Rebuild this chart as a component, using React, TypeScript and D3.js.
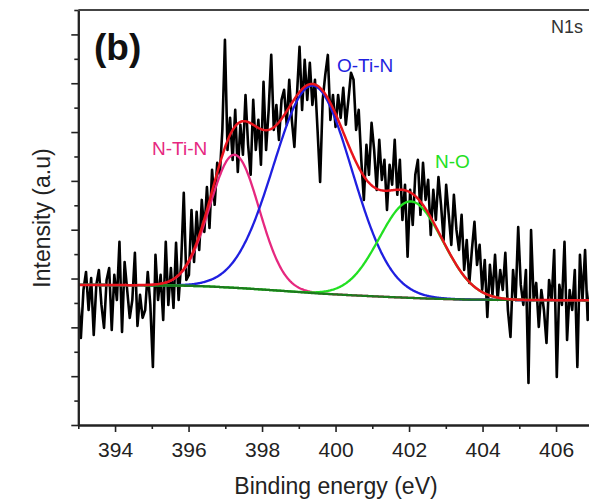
import React, { useEffect, useRef } from 'react';
import * as d3 from 'd3';

const W = 589;
const H = 504;

// Raw XPS N1s spectrum (binding energy grid start/step, intensity in a.u.)
const E_START = 393;
const E_STEP = 0.07;
const intensity = [
  512, 357, 553, 627, 471, 602, 369, 574, 635, 492,
  398, 594, 643, 389, 615, 512, 750, 381, 668, 553,
  439, 512, 705, 406, 533, 439, 471, 627, 492, 238,
  697, 512, 615, 430, 750, 492, 643, 480, 746, 512,
  668, 951, 594, 615, 881, 668, 873, 717, 922, 791,
  975, 807, 1045, 902, 1074, 1025, 1209, 1578, 1127, 1258,
  1086, 1291, 1037, 1230, 1107, 1352, 1148, 1025, 1332, 1127,
  1250, 1066, 1406, 1127, 1291, 1516, 1209, 1311, 1168, 1332,
  1373, 1230, 1414, 1250, 1139, 1352, 1549, 1291, 1496, 1332,
  1484, 1311, 1414, 1209, 996, 1332, 1434, 1516, 1250, 1352,
  1221, 1352, 1258, 1381, 1230, 1332, 1443, 1414, 1209, 1291,
  1086, 922, 1148, 1025, 1238, 1127, 963, 1168, 1004, 1086,
  881, 1066, 984, 1168, 943, 1086, 840, 984, 689, 963,
  820, 1025, 1086, 861, 1074, 922, 1004, 779, 963, 840,
  1016, 902, 758, 984, 861, 738, 943, 799, 717, 861,
  635, 758, 582, 717, 832, 656, 738, 553, 676, 443,
  656, 533, 697, 512, 635, 553, 705, 471, 361, 635,
  512, 811, 574, 492, 635, 172, 799, 512, 582, 402,
  553, 471, 336, 594, 512, 717, 197, 574, 492, 750,
  348, 553, 471, 635, 238, 697, 512, 717, 430, 553, 512,
];

// Shirley-type background
const baselineEnergy = [393, 395.5, 396.5, 397.5, 398.5, 399.5, 400.5, 401.5, 402.5, 403.5, 405, 407];
const baselineValue = [574, 572, 568, 560, 550, 539, 531, 524, 518, 514, 512, 511];

// Fitted Gaussian components
const peakNames = ['N-Ti-N', 'O-Ti-N', 'N-O'];
const peakCenters = [397.25, 399.38, 402.05];
const peakHeights = [545, 850, 395];
const peakSigmas = [0.67, 1.06, 0.86];
const peakColors = ['#e6287f', '#1f1fe0', '#22e022'];

const xMajorTicks = [394, 396, 398, 400, 402, 404, 406];
const xMinorTicks = [393, 395, 397, 399, 401, 403, 405, 407];
const yMajorTicks = [0, 200, 400, 600, 800, 1000, 1200, 1400, 1600];
const yMinorTicks = [100, 300, 500, 700, 900, 1100, 1300, 1500, 1700];

const FONT = '"Liberation Sans", Arial, Helvetica, sans-serif';

export default function App() {
  const ref = useRef<SVGSVGElement>(null);

  useEffect(() => {
    const svg = d3.select(ref.current);
    svg.selectAll('*').remove();

    const left = 78.3;
    const top = 10;
    const bottom = 425;
    const x = d3.scaleLinear().domain([393, 407]).range([left, 592.8]);
    const y = d3.scaleLinear().domain([0, 1700]).range([bottom, top]);
    const bg = d3.scaleLinear().domain(baselineEnergy).range(baselineValue).clamp(true);

    svg.append('rect').attr('width', W).attr('height', H).attr('fill', '#fff');

    const clip = svg.append('defs').append('clipPath').attr('id', 'plotclip');
    clip.append('rect').attr('x', left).attr('y', top).attr('width', W - left).attr('height', bottom - top);
    const plot = svg.append('g').attr('clip-path', 'url(#plotclip)');

    const data = intensity.map((v, i) => [E_START + i * E_STEP, v] as [number, number]);
    const line = d3.line<[number, number]>().x(d => x(d[0])).y(d => y(d[1]));

    plot.append('path')
      .attr('d', line(data))
      .attr('fill', 'none')
      .attr('stroke', '#000')
      .attr('stroke-width', 2.6)
      .attr('stroke-linejoin', 'round');

    const grid = d3.range(393, 407.001, 0.02);
    const gauss = (e: number, k: number) =>
      peakHeights[k] * Math.exp(-((e - peakCenters[k]) ** 2) / (2 * peakSigmas[k] ** 2));

    peakNames.forEach((_, k) => {
      const pts = grid.map(e => [e, bg(e) + gauss(e, k)] as [number, number]);
      plot.append('path')
        .attr('d', line(pts))
        .attr('fill', 'none')
        .attr('stroke', peakColors[k])
        .attr('stroke-width', 2.3);
    });

    const basePts = grid.map(e => [e, bg(e)] as [number, number]);
    plot.append('path')
      .attr('d', line(basePts))
      .attr('fill', 'none')
      .attr('stroke', '#1c7a1c')
      .attr('stroke-width', 2.3);

    const envPts = grid.map(e => [e, bg(e) + peakNames.reduce((s, _, k) => s + gauss(e, k), 0)] as [number, number]);
    plot.append('path')
      .attr('d', line(envPts))
      .attr('fill', 'none')
      .attr('stroke', '#e8141c')
      .attr('stroke-width', 2.5);

    // Axes
    const axisColor = '#222';
    const gx = svg.append('g').attr('transform', `translate(0,${bottom})`);
    gx.call(d3.axisBottom(x).tickValues(xMinorTicks).tickSize(4).tickSizeOuter(0).tickFormat(() => ''));
    const gxM = svg.append('g').attr('transform', `translate(0,${bottom})`);
    gxM.call(d3.axisBottom(x).tickValues(xMajorTicks).tickSize(7).tickSizeOuter(0).tickPadding(10).tickFormat(d3.format('d')));
    const gy = svg.append('g').attr('transform', `translate(${left},0)`);
    gy.call(d3.axisLeft(y).tickValues(yMinorTicks).tickSize(4).tickSizeOuter(0).tickFormat(() => ''));
    const gyM = svg.append('g').attr('transform', `translate(${left},0)`);
    gyM.call(d3.axisLeft(y).tickValues(yMajorTicks).tickSize(7).tickSizeOuter(0).tickFormat(() => ''));

    [gx, gxM, gy, gyM].forEach(g => {
      g.selectAll('path.domain').attr('stroke', axisColor).attr('stroke-width', 2);
      g.selectAll('line').attr('stroke', axisColor).attr('stroke-width', 1.6);
      g.selectAll('text').attr('font-family', FONT).attr('font-size', 21).attr('fill', '#222');
    });

    svg.append('line')
      .attr('x1', left).attr('x2', W).attr('y1', top).attr('y2', top)
      .attr('stroke', '#444').attr('stroke-width', 2);

    // Labels
    svg.append('text')
      .attr('x', 336).attr('y', 494)
      .attr('text-anchor', 'middle')
      .attr('font-family', FONT).attr('font-size', 23).attr('fill', '#222')
      .text('Binding energy (eV)');

    svg.append('text')
      .attr('transform', 'translate(50,218) rotate(-90)')
      .attr('text-anchor', 'middle')
      .attr('font-family', FONT).attr('font-size', 23).attr('fill', '#222')
      .text('Intensity (a.u)');

    svg.append('text')
      .attr('x', 94).attr('y', 60)
      .attr('font-family', FONT).attr('font-size', 37).attr('font-weight', 'bold').attr('fill', '#111')
      .text('(b)');

    svg.append('text')
      .attr('x', 551).attr('y', 33)
      .attr('font-family', FONT).attr('font-size', 18).attr('fill', '#333')
      .text('N1s');

    const labelPos = [[152, 155], [337, 72], [435, 168]];
    peakNames.forEach((n, k) => {
      svg.append('text')
        .attr('x', labelPos[k][0]).attr('y', labelPos[k][1])
        .attr('font-family', FONT).attr('font-size', 19).attr('fill', peakColors[k])
        .text(n);
    });
  }, []);

  return (
    <svg
      ref={ref}
      width={W}
      height={H}
      style={{ position: 'absolute', left: 0, top: 0, display: 'block', background: '#fff' }}
    />
  );
}
